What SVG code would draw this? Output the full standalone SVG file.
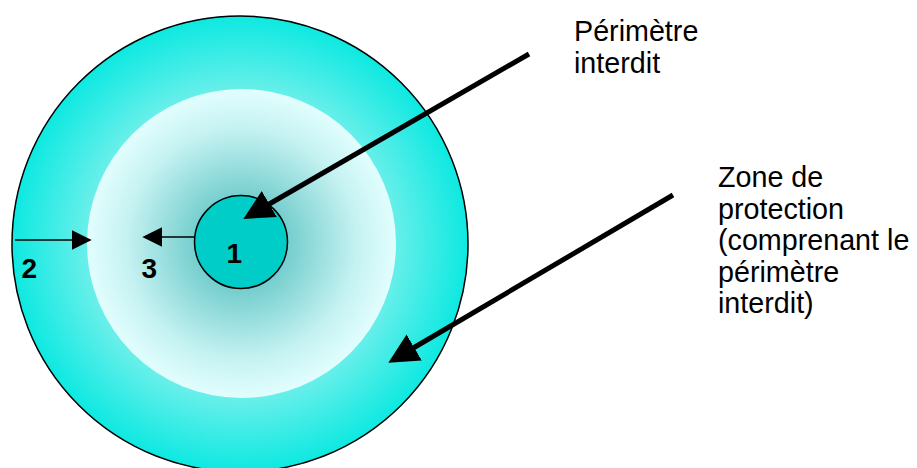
<svg xmlns="http://www.w3.org/2000/svg" width="917" height="468" viewBox="0 0 917 468">
  <defs>
    <radialGradient id="gOuter" cx="240" cy="244" r="228" gradientUnits="userSpaceOnUse">
      <stop offset="0" stop-color="#ffffff"/>
      <stop offset="0.6" stop-color="#7ef0ec"/>
      <stop offset="1" stop-color="#0de9e1"/>
    </radialGradient>
    <radialGradient id="gInner" cx="241.5" cy="243.5" r="154.5" gradientUnits="userSpaceOnUse">
      <stop offset="0" stop-color="#3fb8b8"/>
      <stop offset="0.35" stop-color="#7ed2d2"/>
      <stop offset="0.75" stop-color="#c6f2f2"/>
      <stop offset="1" stop-color="#e2fefe"/>
    </radialGradient>
    <marker id="headBig" markerUnits="userSpaceOnUse" markerWidth="40" markerHeight="40" viewBox="0 -20 40 40" refX="3" refY="0" orient="auto">
      <path d="M0,-15 L30,0 L0,15 z" fill="#000"/>
    </marker>
    <marker id="headSmall" markerUnits="userSpaceOnUse" markerWidth="30" markerHeight="30" viewBox="0 -15 30 30" refX="2" refY="0" orient="auto">
      <path d="M0,-10 L20,0 L0,10 z" fill="#000"/>
    </marker>
  </defs>
  <style>
    .lbl { font-family: "Liberation Sans", Arial, sans-serif; font-size: 28.7px; fill: #000; }
    .num { font-family: "Liberation Sans", Arial, sans-serif; font-size: 28px; font-weight: bold; fill: #000; }
    .thick { stroke: #000; stroke-width: 5; fill: none; marker-end: url(#headBig); }
    .thin { stroke: #000; stroke-width: 1.5; fill: none; marker-end: url(#headSmall); }
  </style>

  <g id="zone-protection">
    <circle cx="240" cy="244" r="228" fill="url(#gOuter)" stroke="#000" stroke-width="1.5"/>
  </g>
  <g id="zone-interieure">
    <circle cx="241.5" cy="243.5" r="154.5" fill="url(#gInner)"/>
  </g>
  <g id="perimetre-interdit">
    <circle cx="241" cy="242" r="46.5" fill="#00ccc8" stroke="#000" stroke-width="1.5"/>
    <text class="num" x="226.5" y="263">1</text>
  </g>
  <g id="label-2">
    <text class="num" x="21.5" y="278">2</text>
  </g>
  <g id="label-3">
    <text class="num" x="141.5" y="278">3</text>
  </g>
  <g id="label-perimetre">
    <text class="lbl" x="574" y="41">Périmètre</text>
    <text class="lbl" x="574" y="73">interdit</text>
  </g>
  <g id="label-zone">
    <text class="lbl" x="718" y="187">Zone de</text>
    <text class="lbl" x="718" y="218.5">protection</text>
    <text class="lbl" x="718" y="250">(comprenant le</text>
    <text class="lbl" x="718" y="281.5">périmètre</text>
    <text class="lbl" x="718" y="313">interdit)</text>
  </g>

  <g id="connectors">
    <line class="thick" x1="529" y1="54" x2="266.7" y2="205.5"/>
    <line class="thick" x1="673" y1="195" x2="411.6" y2="349"/>
    <line class="thin" x1="15" y1="240" x2="73.7" y2="240"/>
    <line class="thin" x1="195" y1="237" x2="160.3" y2="237"/>
  </g>
</svg>
